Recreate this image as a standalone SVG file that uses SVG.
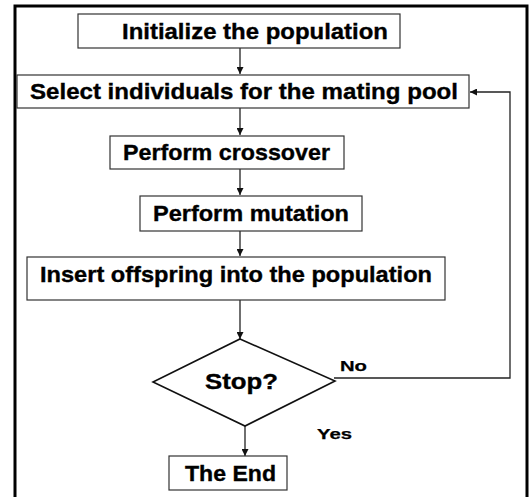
<svg xmlns="http://www.w3.org/2000/svg" width="531" height="497" viewBox="0 0 531 497">
<style>
.box{fill:#fff;stroke:#333;stroke-width:1.2}
.dia{fill:#fff;stroke:#111;stroke-width:1.6}
.t{font-family:"Liberation Sans",Arial,sans-serif;font-weight:bold;font-size:22px;fill:#000;stroke:#000;stroke-width:0.35}
.s{font-family:"Liberation Sans",Arial,sans-serif;font-weight:bold;font-size:15px;fill:#000;stroke:#000;stroke-width:0.25}
.c{fill:none;stroke:#222;stroke-width:1.3}
</style>
<defs>
<marker id="ah" viewBox="0 0 10 10" refX="10" refY="5" markerWidth="7" markerHeight="7" markerUnits="userSpaceOnUse" orient="auto">
<path d="M0,0 L10,5 L0,10 z" fill="#111"/>
</marker>
</defs>
<rect x="0" y="0" width="531" height="497" fill="#fff"/>
<path d="M15,497 V6 H527 V497" fill="none" stroke="#000" stroke-width="3"/>
<g id="connectors">
<line class="c" x1="240" y1="48" x2="240" y2="74" marker-end="url(#ah)"/>
<line class="c" x1="240" y1="108" x2="240" y2="135" marker-end="url(#ah)"/>
<line class="c" x1="240" y1="169" x2="240" y2="195" marker-end="url(#ah)"/>
<line class="c" x1="240" y1="231" x2="240" y2="256" marker-end="url(#ah)"/>
<line class="c" x1="240" y1="300" x2="240" y2="339" marker-end="url(#ah)"/>
<line class="c" x1="245" y1="426" x2="245" y2="456" marker-end="url(#ah)"/>
<polyline class="c" points="334,378 510,378 510,92 470,92" marker-end="url(#ah)"/>
</g>
<g id="n1"><rect class="box" x="78" y="14" width="322" height="34"/><text class="t" x="122" y="39" textLength="266" lengthAdjust="spacingAndGlyphs">Initialize the population</text></g>
<g id="n2"><rect class="box" x="17" y="75" width="452" height="33"/><text class="t" x="30" y="99" textLength="428" lengthAdjust="spacingAndGlyphs">Select individuals for the mating pool</text></g>
<g id="n3"><rect class="box" x="110" y="136" width="234" height="33"/><text class="t" x="123" y="160" textLength="207" lengthAdjust="spacingAndGlyphs">Perform crossover</text></g>
<g id="n4"><rect class="box" x="140" y="196" width="222" height="35"/><text class="t" x="153" y="221" textLength="196" lengthAdjust="spacingAndGlyphs">Perform mutation</text></g>
<g id="n5"><rect class="box" x="27" y="257" width="418" height="43"/><text class="t" x="40" y="282" textLength="392" lengthAdjust="spacingAndGlyphs">Insert offspring into the population</text></g>
<g id="n6"><polygon class="dia" points="240,339 335,381 245,426 153,382"/><text class="t" x="205" y="389" textLength="73" lengthAdjust="spacingAndGlyphs">Stop?</text></g>
<g id="n7"><rect class="box" x="169" y="456" width="118" height="34"/><text class="t" x="185" y="481" textLength="91" lengthAdjust="spacingAndGlyphs">The End</text></g>
<text class="s" x="340" y="371" textLength="27" lengthAdjust="spacingAndGlyphs">No</text>
<text class="s" x="317" y="439" textLength="35" lengthAdjust="spacingAndGlyphs">Yes</text>
</svg>
